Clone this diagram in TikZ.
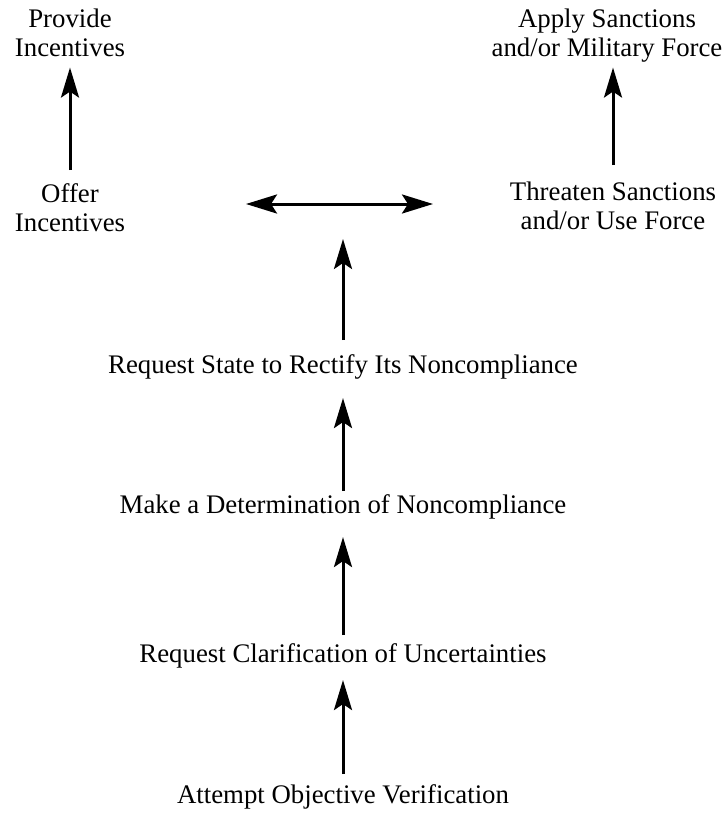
\documentclass[tikz,border=0pt]{standalone}
\usepackage{fontspec}
\setmainfont{Liberation Serif}
\usetikzlibrary{arrows.meta}
\begin{document}
\begin{tikzpicture}[x=1pt,y=-1pt,
  lbl/.style={inner sep=0pt, anchor=base, font=\fontsize{26.8}{29.5}\selectfont},
  conn/.style={line width=3pt, -{Stealth[length=30pt,width=18pt,inset=6pt]}},
  dconn/.style={line width=3pt, {Stealth[length=31pt,width=19pt,inset=6pt]}-{Stealth[length=31pt,width=19pt,inset=6pt]}}]
\fill[white] (0,0) rectangle (723,814);
\useasboundingbox (0,0) rectangle (723,814);
% top row
\node[lbl] (provide) at (70,27) {\begin{tabular}[t]{@{}c@{}}Provide\\Incentives\end{tabular}};
\node[lbl] (apply) at (607,27) {\begin{tabular}[t]{@{}c@{}}Apply Sanctions\\and/or Military Force\end{tabular}};
% second row
\node[lbl] (offer) at (70,202) {\begin{tabular}[t]{@{}c@{}}Offer\\Incentives\end{tabular}};
\node[lbl] (threaten) at (613,200) {\begin{tabular}[t]{@{}c@{}}Threaten Sanctions\\and/or Use Force\end{tabular}};
\coordinate (dl) at (246,204);
\coordinate (dr) at (433,204);
\coordinate (split) at (343,239);
% centre column
\node[lbl] (rs) at (343,373) {\begin{tabular}[t]{@{}c@{}}Request State to Rectify Its Noncompliance\end{tabular}};
\node[lbl] (make) at (343,513) {\begin{tabular}[t]{@{}c@{}}Make a Determination of Noncompliance\end{tabular}};
\node[lbl] (rc) at (343,662) {\begin{tabular}[t]{@{}c@{}}Request Clarification of Uncertainties\end{tabular}};
\node[lbl] (att) at (343,803) {\begin{tabular}[t]{@{}c@{}}Attempt Objective Verification\end{tabular}};
% connectors
\draw[conn, shorten <=11pt, shorten >=2pt] (offer.north) -- (provide.south);
\draw[conn, shorten <=14pt, shorten >=2pt] (threaten.north) -- (threaten.north |- apply.south);
\draw[dconn] (dl) -- (dr);
\draw[conn, shorten <=12pt] (rs.north) -- (split);
\draw[conn, shorten <=1pt, shorten >=16pt] (make.north) -- (rs.south);
\draw[conn, shorten <=6pt, shorten >=15pt] (rc.north) -- (make.south);
\draw[conn, shorten <=8pt, shorten >=9pt] (att.north) -- (rc.south);
\end{tikzpicture}
\end{document}
